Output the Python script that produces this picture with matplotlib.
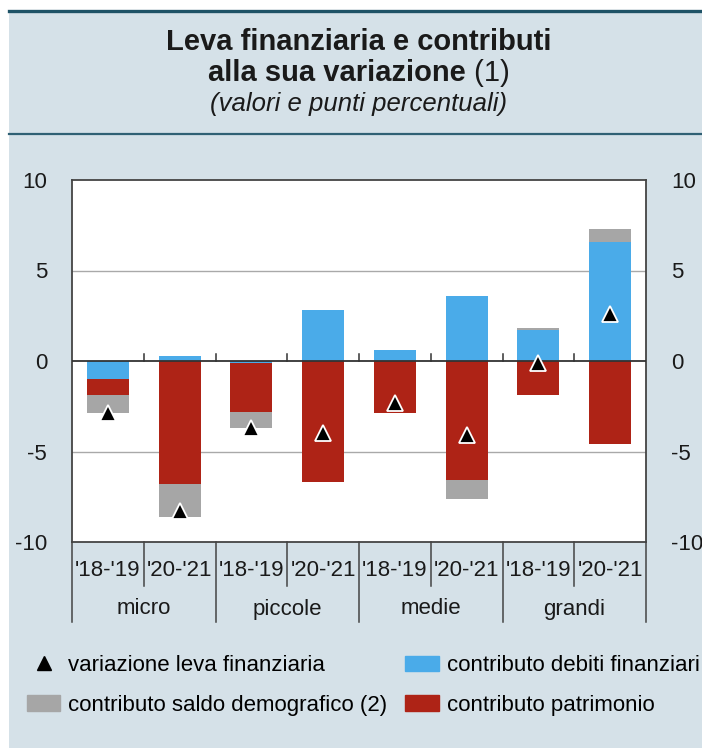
import matplotlib
matplotlib.use("Agg")
import matplotlib.pyplot as plt
import matplotlib.patches as mpatches
import matplotlib.lines as mlines
from matplotlib.transforms import blended_transform_factory
import numpy as np

plt.rcParams['font.family'] = ['Liberation Sans', 'DejaVu Sans']

# data
groups = ['micro', 'piccole', 'medie', 'grandi']
periods = ["'18-'19", "'20-'21"]
debiti = [-1.0, 0.3, -0.1, 2.8, 0.6, 3.6, 1.7, 6.6]
patrimonio = [-0.9, -6.8, -2.7, -6.7, -2.9, -6.6, -1.9, -4.6]
saldo_demo = [-1.0, -1.8, -0.9, 0.0, 0.0, -1.0, 0.1, 0.7]
variazione = [-2.9, -8.3, -3.7, -4.0, -2.3, -4.1, -0.1, 2.6]

c_blue = '#4aabe9'
c_red = '#ae2316'
c_gray = '#a6a6a6'
bg = '#d5e1e8'
line_col = '#1e5266'

W, H = 702, 748
fig = plt.figure(figsize=(W / 100, H / 100), dpi=100)
fig.patch.set_facecolor('white')

def fx(px):
    return px / W

def fy(py):
    return 1 - py / H

# panel background and rules
fig.patches.append(mpatches.Rectangle((fx(9), 0), 1 - fx(9), fy(10), transform=fig.transFigure,
                                      facecolor=bg, edgecolor='none', zorder=-10))
fig.lines.append(mlines.Line2D([fx(9), 1], [fy(10.5), fy(10.5)], transform=fig.transFigure,
                               color=line_col, lw=2.4))
fig.lines.append(mlines.Line2D([fx(9), 1], [fy(134), fy(134)], transform=fig.transFigure,
                               color='#2f6074', lw=1.6))

# title
xc = 0.511
fig.text(xc, fy(42), 'Leva finanziaria e contributi', ha='center', va='center',
         fontsize=21, fontweight='bold', color='#1a1a1a')
renderer = fig.canvas.get_renderer()
t1 = fig.text(0, fy(73), 'alla sua variazione', ha='left', va='center',
              fontsize=21, fontweight='bold', color='#1a1a1a')
t2 = fig.text(0, fy(73), ' (1)', ha='left', va='center', fontsize=21, color='#1a1a1a')
w1 = t1.get_window_extent(renderer).width / W
w2 = t2.get_window_extent(renderer).width / W
x0 = xc - (w1 + w2) / 2
t1.set_x(x0)
t2.set_x(x0 + w1)
fig.text(xc, fy(104), '(valori e punti percentuali)', ha='center', va='center',
         fontsize=18.5, style='italic', color='#1a1a1a')

# axes
ax = fig.add_axes([fx(72), fy(542), fx(646) - fx(72), fy(180) - fy(542)])
ax.set_facecolor('white')
x = np.arange(len(debiti))
width = 0.585

pos_base = np.zeros(len(x))
neg_base = np.zeros(len(x))
for vals, col in [(debiti, c_blue), (patrimonio, c_red), (saldo_demo, c_gray)]:
    vals = np.array(vals)
    bottoms = np.where(vals >= 0, pos_base, neg_base)
    ax.bar(x, vals, width, bottom=bottoms, color=col, edgecolor='none', zorder=2)
    pos_base += np.where(vals >= 0, vals, 0)
    neg_base += np.where(vals < 0, vals, 0)

ax.plot(x, variazione, linestyle='none', marker='^', markersize=12, color='black',
        markeredgecolor='white', markeredgewidth=1.3, zorder=4)

ax.set_xlim(-0.5, len(x) - 0.5)
ax.set_ylim(-10, 10)
ax.set_yticks([-10, -5, 0, 5, 10])
ax.set_yticklabels(['-10', '-5', '0', '5', '10'])
ax.tick_params(axis='y', length=0, pad=18, labelsize=16, labelright=True, colors='#1a1a1a')
ax.set_xticks([])
for yv in [-5, 5]:
    ax.axhline(yv, color='#a9a9a9', lw=1.0, zorder=1)
ax.axhline(0, color='#333333', lw=1.3, zorder=3)
for b in np.arange(0.5, len(x) - 0.5, 1):
    ax.plot([b, b], [0, 0.38], color='#333333', lw=1.1, zorder=3)
for s in ax.spines.values():
    s.set_color('#444444')
    s.set_linewidth(1.3)

# category axis below
tr = blended_transform_factory(ax.transData, fig.transFigure)
for i in range(len(x)):
    ax.text(i, fy(570), periods[i % 2], transform=tr, ha='center', va='center',
            fontsize=16, color='#1a1a1a')
for g, name in enumerate(groups):
    ax.text(2 * g + 0.5, fy(609), name, transform=tr, ha='center', va='center',
            fontsize=16, color='#1a1a1a')
for b in np.arange(-0.5, len(x), 1):
    yend = fy(622) if (b + 0.5) % 2 == 0 else fy(586)
    ax.plot([b, b], [fy(542), yend], transform=tr, color='#444444', lw=1.1, clip_on=False)

# legend
handles = [
    mlines.Line2D([], [], linestyle='none', marker='^', markersize=10, color='black'),
    mpatches.Patch(color=c_gray),
    mpatches.Patch(color=c_blue),
    mpatches.Patch(color=c_red),
]
labels = ['variazione leva finanziaria', 'contributo saldo demografico (2)',
          'contributo debiti finanziari', 'contributo patrimonio']
fig.legend(handles, labels, loc='upper left', bbox_to_anchor=(fx(16), fy(644)), ncol=2,
           frameon=False, fontsize=16, handlelength=1.5, handleheight=0.7,
           handletextpad=0.36, columnspacing=0.8, labelspacing=0.85, borderpad=0)

fig.savefig('out.png', dpi=100)
